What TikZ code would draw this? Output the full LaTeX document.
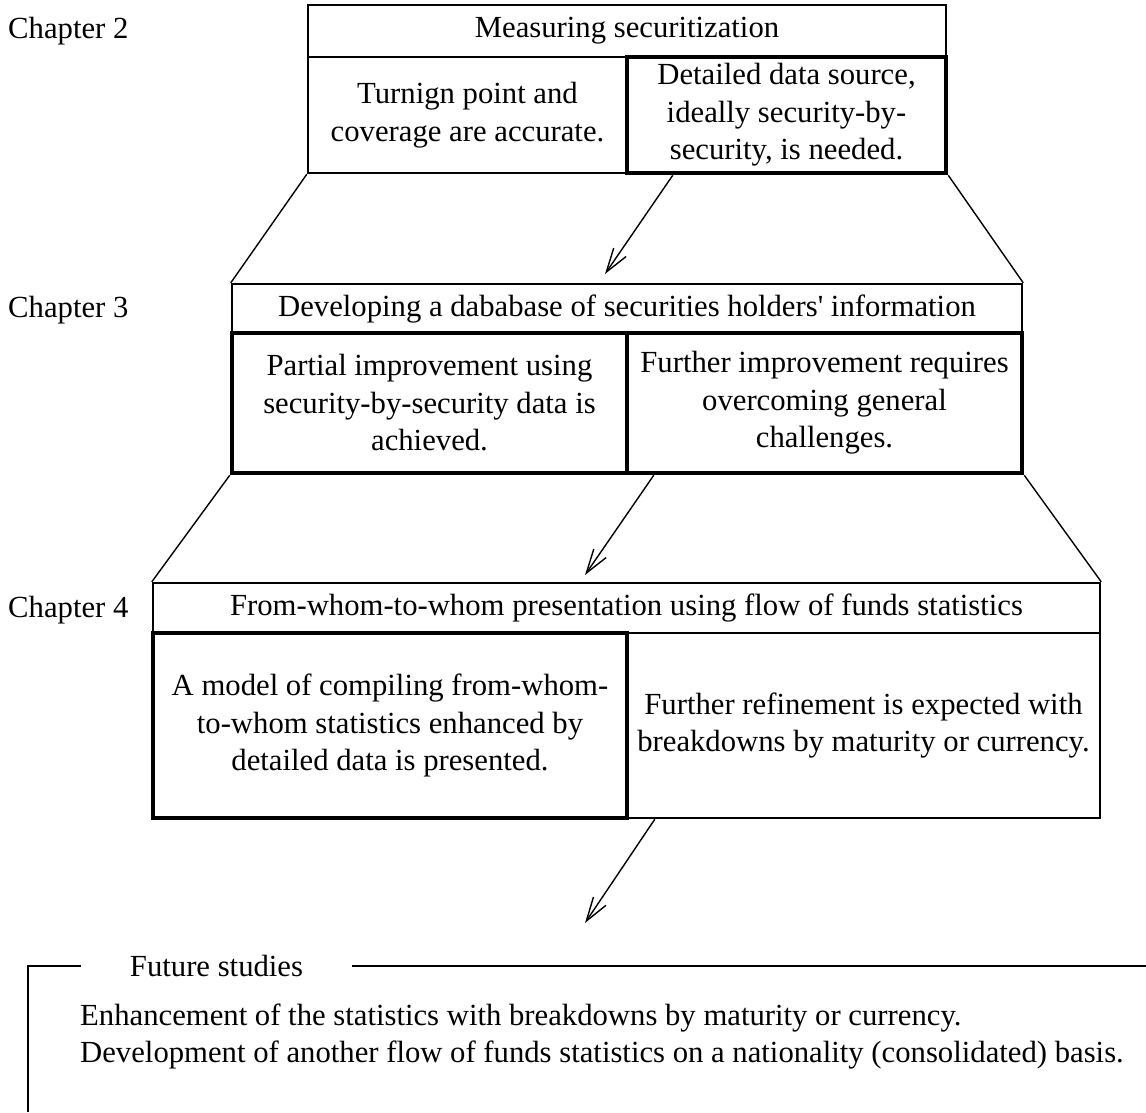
\documentclass[tikz,border=0pt]{standalone}
\usepackage{fontspec}
\setmainfont{Liberation Serif}
\usepackage{tikz}
\usetikzlibrary{arrows.meta}

\begin{document}
\begin{tikzpicture}
    [
        x=1pt, y=-1pt,
        font=\fontsize{30.7}{37.5}\selectfont,
        box/.style={draw, rectangle, align=center, inner sep=0pt, line width=2.4pt},
        thickbox/.style={box, line width=4.5pt},
        chap/.style={anchor=west, inner sep=0pt},
        link/.style={line width=1.4pt},
        arr/.style={line width=1.4pt, -{Straight Barb[length=24pt, width=15pt]}},
        frame/.style={line width=2pt}
    ]
        \useasboundingbox (0,0) rectangle (1146,1112);

        %CHAPTER 2
        \node[chap] (ch2) at (8,31) {Chapter 2};
        \node[box, minimum width=638pt, minimum height=52pt] (c2t) at (627,31) {Measuring securitization};
        \node[box, minimum width=319pt, minimum height=116pt] (c2l) at (467.5,115) {Turnign point and\\coverage are accurate.};
        \node[thickbox, minimum width=319pt, minimum height=116pt] (c2r) at (786.5,115) {Detailed data source,\\ideally security-by-\\security, is needed.};

        %CHAPTER 3
        \node[chap] (ch3) at (8,310) {Chapter 3};
        \node[box, minimum width=790pt, minimum height=49pt] (c3t) at (627,308.5) {Developing a dababase of securities holders\textquotesingle{} information};
        \node[thickbox, minimum width=395pt, minimum height=140pt] (c3l) at (429.5,403) {Partial improvement using\\security-by-security data is\\achieved.};
        \node[thickbox, minimum width=395pt, minimum height=140pt] (c3r) at (824.5,403) {Further improvement requires\\overcoming general\\challenges.};

        %CHAPTER 4
        \node[chap] (ch4) at (8,610) {Chapter 4};
        \node[box, minimum width=947pt, minimum height=50pt] (c4t) at (626.5,608) {From-whom-to-whom presentation using flow of funds statistics};
        \node[box, minimum width=473pt, minimum height=185pt] (c4r) at (863.5,725.5) {Further refinement is expected with\\breakdowns by maturity or currency.};
        \node[thickbox, minimum width=474pt, minimum height=185pt] (c4l) at (390,725.5) {A model of compiling from-whom-\\to-whom statistics enhanced by\\detailed data is presented.};

        %ZOOM LINES
        \draw[link] (c2l.south west) -- (c3t.north west);
        \draw[link] (c2r.south east) -- (c3t.north east);
        \draw[link] (c3l.south west) -- (c4t.north west);
        \draw[link] (c3r.south east) -- (c4t.north east);

        %ARROWS
        \coordinate (tip1) at (605,274);
        \coordinate (tip2) at (585,575);
        \coordinate (tip3) at (585,923);
        \draw[arr] ([xshift=48pt]c2r.south west) -- (tip1);
        \draw[arr] ([xshift=29pt]c3r.south west) -- (tip2);
        \draw[arr] ([xshift=29pt]c4r.south west) -- (tip3);

        %FUTURE STUDIES
        \node[inner xsep=49pt, inner ysep=0pt] (fut) at (216.5,966) {Future studies};
        \draw[frame] (fut.west) -- (28,966) -- (28,1112);
        \draw[frame] (fut.east) -- (1146,966);
        \node[anchor=west, align=left, inner sep=0pt] (futlist) at (80,1036.5) {Enhancement of the statistics with breakdowns by maturity or currency.\\Development of another flow of funds statistics on a nationality (consolidated) basis.};
\end{tikzpicture}
\end{document}
